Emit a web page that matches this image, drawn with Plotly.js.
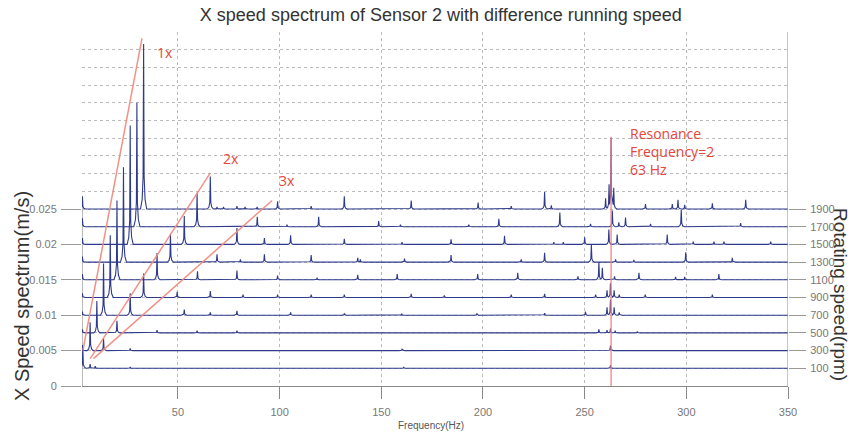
<!DOCTYPE html>
<html>
<head>
<meta charset="utf-8">
<script src="https://cdn.plot.ly/plotly-3.0.1.min.js"></script>
<style>html,body{margin:0;padding:0;background:#fff;}#chart{width:851px;height:439px;}</style>
</head>
<body>
<div id="chart"></div>
<script>
// ---- data ----
const rpmLabels = ['100','300','500','700','900','1100','1300','1500','1700','1900'];
const freqTicks = [50,100,150,200,250,300,350];
const ampTicks = [0,0.005,0.01,0.015,0.02,0.025];
const ampTickText = ['0','0.005','0.01','0.015','0.02','0.025'];

// peak frequencies (Hz) and amplitudes (m/s) for each running speed
const f100 = [3.2, 6.8, 9.3, 26.5, 161, 262.7];
const a100 = [0.003, 0.0006, 0.0003, 0.0002, 0.0002, 0.0004];
const f300 = [3.0, 6.8, 13.4, 26.5, 160.2, 262.7];
const a300 = [0.0008, 0.004, 0.0017, 0.0003, 0.0002, 0.0007];
const f500 = [3.0, 10.1, 20.0, 39.7, 59.4, 79, 257, 261, 262.7, 265, 275.9];
const a500 = [0.0005, 0.0045, 0.0017, 0.0004, 0.0003, 0.0003, 0.0005, 0.0004, 0.0006, 0.0003, 0.0002];
const f700 = [3.0, 13.4, 26.5, 53.1, 65.9, 79, 105.4, 131.8, 160, 197, 230.3, 250.4, 261, 262.7, 264.5, 267];
const a700 = [0.0005, 0.0073, 0.0031, 0.0008, 0.0004, 0.0006, 0.0004, 0.0002, 0.0002, 0.0002, 0.0003, 0.0005, 0.0011, 0.0022, 0.0011, 0.0004];
const f900 = [3.0, 16.7, 33.1, 49.6, 65.9, 82, 99, 115.5, 131.8, 164.7, 181, 213.9, 230.3, 255.4, 261, 262.7, 264.5, 267, 279.8, 312.8];
const a900 = [0.0006, 0.0088, 0.0034, 0.0008, 0.0009, 0.0004, 0.0004, 0.0004, 0.0004, 0.0005, 0.0003, 0.0004, 0.0005, 0.0004, 0.001, 0.002, 0.001, 0.0004, 0.0004, 0.0004];
const f1100 = [3.0, 20.0, 39.7, 59.6, 79, 99, 118.4, 138.4, 157.8, 197.4, 217.1, 246.7, 257, 258.7, 264.7, 276.7, 294.7, 299.2, 316];
const a1100 = [0.0008, 0.0112, 0.0038, 0.0012, 0.0013, 0.0006, 0.0003, 0.0007, 0.0008, 0.0008, 0.001, 0.0005, 0.0025, 0.0017, 0.0005, 0.001, 0.0004, 0.0004, 0.0008];
const f1300 = [3.0, 23.2, 46.3, 69.2, 80.7, 92.5, 115.5, 138.4, 139.7, 161.4, 184.3, 218.8, 230.3, 253.3, 265.2, 274.2, 299.7, 322.6];
const a1300 = [0.0008, 0.0134, 0.004, 0.0011, 0.0004, 0.0011, 0.001, 0.0006, 0.0004, 0.0005, 0.001, 0.0004, 0.0013, 0.0024, 0.0004, 0.0003, 0.0014, 0.0006];
const f1500 = [3.0, 26.5, 53.1, 79, 92.5, 105.4, 131.8, 160.2, 184.3, 210.6, 234.8, 239.5, 250, 261.9, 266, 290.6, 303.4, 313.6, 318.5, 341.5];
const a1500 = [0.0009, 0.0168, 0.004, 0.0023, 0.0009, 0.0013, 0.0008, 0.0003, 0.0007, 0.0012, 0.0003, 0.0003, 0.001, 0.0021, 0.0014, 0.0014, 0.0004, 0.0004, 0.0004, 0.0004];
const f1700 = [3.0, 29.8, 59.4, 89, 103.6, 119.2, 148.7, 159.4, 193, 207.8, 237.8, 252.9, 263.6, 266.8, 270.1, 282.4, 297.5, 326.7];
const a1700 = [0.0012, 0.0175, 0.0048, 0.0014, 0.0003, 0.0014, 0.0008, 0.0003, 0.0003, 0.0011, 0.002, 0.0004, 0.0023, 0.0006, 0.0013, 0.0004, 0.0024, 0.0005];
const f1900 = [3.0, 33.1, 65.9, 69.2, 72.4, 79, 83, 88.9, 99, 115.5, 131.8, 164.7, 197.6, 213.9, 230.3, 233.6, 260.3, 262, 263, 264.3, 279.9, 293.1, 295.9, 299.2, 312.8, 329.2];
const a1900 = [0.0018, 0.0233, 0.0046, 0.0003, 0.0003, 0.0004, 0.0003, 0.0003, 0.0011, 0.0004, 0.0018, 0.0012, 0.0009, 0.0004, 0.0024, 0.0005, 0.0015, 0.0035, 0.0101, 0.003, 0.0007, 0.0007, 0.0013, 0.0006, 0.0008, 0.0013];

// guide lines (Hz, m/s) and resonance frequency
const guide1x = [[3.25, 0.00504], [32.3, 0.0491]];
const guide2x = [[6.84, 0.00387], [65.9, 0.0301]];
const guide3x = [[8.46, 0.00387], [96.3, 0.0262]];
const resonanceHz = 263;

// ---- build ----
const freqs = [f100,f300,f500,f700,f900,f1100,f1300,f1500,f1700,f1900];
const amps  = [a100,a300,a500,a700,a900,a1100,a1300,a1500,a1700,a1900];
const X_MIN = 2.8, X_MAX = 350, Y_MAX = 0.05, STEP = 0.0025;

const kern = [[0,1],[0.25,0.2],[0.7,0.06],[1.5,0]];
function kval(d){
  d = Math.abs(d);
  for (let k=1;k<kern.length;k++){
    if (d <= kern[k][0]){
      const [d0,v0]=kern[k-1],[d1,v1]=kern[k];
      return v0 + (v1-v0)*(d-d0)/(d1-d0);
    }
  }
  return 0;
}
function spectrum(fs, as, base){
  const xsSet = new Set([X_MIN, X_MAX]);
  fs.forEach(f => kern.forEach(([d]) => { xsSet.add(+(f-d).toFixed(3)); xsSet.add(+(f+d).toFixed(3)); }));
  const xs = Array.from(xsSet).filter(x => x>=X_MIN-2 && x<=X_MAX).sort((a,b)=>a-b);
  const ys = xs.map(x => { let m=0; fs.forEach((f,k)=>{ const v=as[k]*kval(x-f); if(v>m)m=v; }); return base+m; });
  return {xs, ys};
}

const lineColor = '#2e3a8c';
const traces = freqs.map((fs,i) => {
  const s = spectrum(fs, amps[i], STEP*(i+1));
  return {
    x: s.xs, y: s.ys, type:'scatter', mode:'lines',
    line:{color: lineColor, width:1.1},
    yaxis: i===9 ? 'y2' : (i===8 ? 'y3' : 'y'),
    name: rpmLabels[i]+' rpm', showlegend:false, hoverinfo:'skip'
  };
});

const red = 'rgb(228,70,58)';
const salmon = 'rgba(240,140,128,0.95)';
function gl(g){ return {type:'line', xref:'x', yref:'y', x0:g[0][0], y0:g[0][1], x1:g[1][0], y1:g[1][1], line:{color:salmon, width:1.5}, layer:'above'}; }

const PL = 82, PW = 706, PB = 386, PH = 354;
const layout = {
  width:851, height:439,
  margin:{l:82, r:63, t:32, b:53},
  paper_bgcolor:'#fff', plot_bgcolor:'#fff',
  title:{text:'X speed spectrum of Sensor 2 with difference running speed',
         font:{family:'Liberation Sans, Arial, sans-serif', size:18, color:'#333'},
         x:0.518, xanchor:'center', y:0.966, yanchor:'middle', yref:'container', xref:'container'},
  xaxis:{range:[X_MIN, X_MAX], tickmode:'array', tickvals:freqTicks, ticktext:freqTicks.map(String),
         ticks:'outside', ticklen:12, tickcolor:'#888', tickwidth:1, ticklabelstandoff:4,
         showgrid:true, gridcolor:'#bbb', griddash:'dot', gridwidth:1,
         showline:true, linecolor:'#888', linewidth:1, zeroline:false,
         tickfont:{family:'Liberation Sans, Arial, sans-serif', size:11, color:'#777'}},
  yaxis:{range:[0, Y_MAX], tickmode:'linear', tick0:0, dtick:STEP, showticklabels:false, ticks:'',
         showgrid:true, gridcolor:'#bbb', griddash:'dot', gridwidth:1, zeroline:false, showline:false},
  yaxis3:{range:[0, Y_MAX], overlaying:'y', side:'left', anchor:'x', tickmode:'array',
          tickvals:ampTicks, ticktext:ampTickText, ticks:'outside', ticklen:20, tickcolor:'#999', tickwidth:1,
          ticklabelstandoff:2, showgrid:false, zeroline:false, showline:false,
          tickfont:{family:'Liberation Sans, Arial, sans-serif', size:11, color:'#777'}},
  yaxis2:{range:[0, Y_MAX], overlaying:'y', side:'right', anchor:'x', tickmode:'array',
          tickvals:rpmLabels.map((r,i)=>STEP*(i+1)), ticktext:rpmLabels, ticks:'outside', ticklen:17,
          tickcolor:'#999', tickwidth:1, ticklabelstandoff:2, showgrid:false, zeroline:false, showline:false,
          tickfont:{family:'Liberation Sans, Arial, sans-serif', size:11, color:'#777'}},
  shapes:[
    {type:'line', xref:'x', yref:'y', x0:X_MIN, x1:X_MIN, y0:0, y1:0.026, line:{color:'#777', width:1}, layer:'below'},
    {type:'line', xref:'x', yref:'y', x0:X_MAX, x1:X_MAX, y0:-0.0011, y1:Y_MAX, line:{color:'#888', width:1}, layer:'above'},
    {type:'line', xref:'x', yref:'y', x0:resonanceHz, x1:resonanceHz, y0:-0.0011, y1:0.0352, line:{color:'rgba(240,130,130,0.85)', width:1.5}, layer:'above'},
    gl(guide1x), gl(guide2x), gl(guide3x)
  ],
  annotations:[
    {text:'1x', x:43.8, y:0.0471, xref:'x', yref:'y', showarrow:false, font:{family:'Open Sans, sans-serif', size:14, color:red}},
    {text:'2x', x:76.2, y:0.03215, xref:'x', yref:'y', showarrow:false, font:{family:'Open Sans, sans-serif', size:14, color:red}},
    {text:'3x', x:103.8, y:0.02905, xref:'x', yref:'y', showarrow:false, font:{family:'Open Sans, sans-serif', size:14, color:red}},
    {text:'Resonance<br>Frequency=2<br>63 Hz', x:271.2, y:0.0331, xref:'x', yref:'y', xanchor:'left', yanchor:'middle', align:'left',
     showarrow:false, font:{family:'Open Sans, sans-serif', size:14, color:red}},
    {text:'X Speed spectrum(m/s)', textangle:-90, x:(22-PL)/PW, y:(PB-296)/PH, xref:'paper', yref:'paper',
     xanchor:'center', yanchor:'middle', showarrow:false,
     font:{family:'Liberation Sans, Arial, sans-serif', size:20, color:'#333'}},
    {text:'Rotating speed(rpm)', textangle:90, x:(841-PL)/PW, y:(PB-294)/PH, xref:'paper', yref:'paper',
     xanchor:'center', yanchor:'middle', showarrow:false,
     font:{family:'Liberation Sans, Arial, sans-serif', size:19, color:'#333'}},
    {text:'Frequency(Hz)', x:(431-PL)/PW, y:(PB-425)/PH, xref:'paper', yref:'paper',
     xanchor:'center', yanchor:'middle', showarrow:false,
     font:{family:'Liberation Sans, Arial, sans-serif', size:10, color:'#555'}}
  ]
};

Plotly.newPlot('chart', traces, layout, {staticPlot:true, displayModeBar:false});
</script>
</body>
</html>
